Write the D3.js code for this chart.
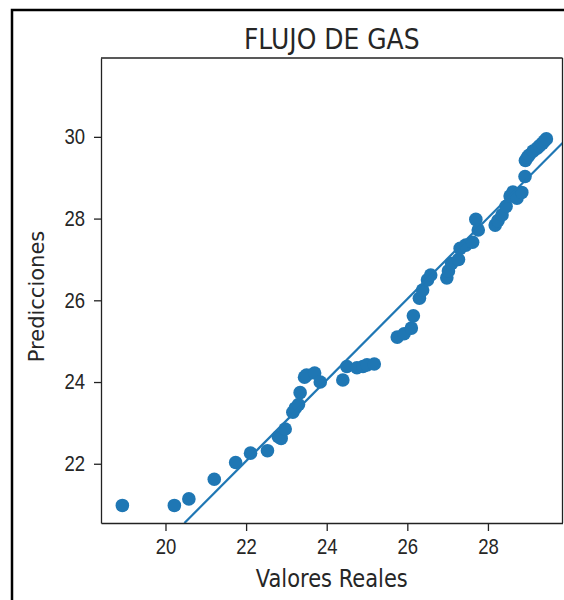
<!DOCTYPE html>
<head>
	<meta charset="utf-8">
	<style>
		html, body { margin: 0; background: #fff; overflow: hidden; }
		svg { display: block; font-family: "DejaVu Sans", sans-serif; }
		svg .domain, svg .tick line { stroke: #222; stroke-width: 1.3; }
		svg .tick text { fill: #262626; font-size: 18.5px; }
		svg .tall { transform-box: fill-box; transform-origin: center; transform: scaleY(1.15); }
	</style>
</head>
<body>
	<svg width="564" height="600"></svg>
	<script src="https://d3js.org/d3.v7.min.js"></script>
	<script>
		// Valores reales vs predicciones
		var realVals = [18.93, 20.22, 20.58, 21.21, 21.74, 22.11, 22.53, 22.80, 22.87, 22.97,
			23.16, 23.22, 23.30, 23.34, 23.45, 23.50, 23.70, 23.84, 24.40, 24.50,
			24.75, 24.90, 25.00, 25.18, 25.75, 25.92, 26.10, 26.15, 26.30, 26.38,
			26.50, 26.58, 26.98, 27.02, 27.10, 27.27, 27.31, 27.45, 27.62, 27.70,
			27.76, 28.18, 28.25, 28.35, 28.45, 28.55, 28.62, 28.72, 28.84, 28.92,
			28.93, 28.98, 29.02, 29.12, 29.22, 29.28, 29.35, 29.40, 29.45];
		var predVals = [20.98, 20.98, 21.14, 21.62, 22.03, 22.26, 22.32, 22.66, 22.62, 22.85,
			23.26, 23.36, 23.45, 23.74, 24.12, 24.17, 24.22, 24.00, 24.05, 24.38,
			24.35, 24.38, 24.42, 24.44, 25.10, 25.18, 25.32, 25.62, 26.05, 26.25,
			26.50, 26.62, 26.55, 26.72, 26.90, 27.00, 27.27, 27.35, 27.42, 27.98,
			27.72, 27.84, 27.95, 28.09, 28.30, 28.55, 28.65, 28.50, 28.64, 29.03,
			29.42, 29.50, 29.55, 29.65, 29.72, 29.78, 29.84, 29.90, 29.95];

		// recta de ajuste (extremos visibles)
		var lineX = [20.47, 29.85];
		var lineY = [20.55, 29.85];

		var xTicks = [20, 22, 24, 26, 28];
		var yTicks = [22, 24, 26, 28, 30];

		var blue = "#1f77b4";

		var svg = d3.select("svg"),
			margin = { top: 58, right: 1.5, bottom: 77, left: 101 },
			width = 564 - margin.left - margin.right,
			height = 600 - margin.top - margin.bottom;

		// marco negro de la captura (solo izquierda y arriba)
		svg.append("path")
			.attr("d", "M12,600V10H564")
			.attr("fill", "none")
			.attr("stroke", "#000")
			.attr("stroke-width", 2.5);

		var g = svg.append("g").attr("transform", "translate(" + margin.left + "," + margin.top + ")");

		var x = d3.scaleLinear().domain([18.40, 29.85]).range([0, width]);
		var y = d3.scaleLinear().domain([20.55, 31.93]).range([height, 0]);

		g.append("clipPath").attr("id", "clip")
			.append("rect").attr("width", width).attr("height", height);

		var plot = g.append("g").attr("clip-path", "url(#clip)");

		plot.selectAll("circle")
			.data(realVals)
			.enter().append("circle")
			.attr("cx", function (d) { return x(d); })
			.attr("cy", function (d, i) { return y(predVals[i]); })
			.attr("r", 6.8)
			.attr("fill", blue);

		plot.append("path")
			.datum(lineX)
			.attr("fill", "none")
			.attr("stroke", blue)
			.attr("stroke-width", 2.2)
			.attr("d", d3.line()
				.x(function (d) { return x(d); })
				.y(function (d, i) { return y(lineY[i]); }));

		// ejes
		g.append("g")
			.attr("transform", "translate(0," + height + ")")
			.call(d3.axisBottom(x).tickValues(xTicks).tickSize(8).tickPadding(9).tickSizeOuter(0))
			.selectAll("text").attr("class", "tall");

		g.append("g")
			.call(d3.axisLeft(y).tickValues(yTicks).tickSize(7).tickPadding(9).tickSizeOuter(0))
			.selectAll("text").attr("class", "tall");

		// spines superior y derecho
		g.append("line").attr("x1", 0).attr("x2", width).attr("y1", 0).attr("y2", 0)
			.attr("stroke", "#222").attr("stroke-width", 1.3);
		g.append("line").attr("x1", width).attr("x2", width).attr("y1", 0).attr("y2", height)
			.attr("stroke", "#222").attr("stroke-width", 1.3);

		// textos
		svg.append("text")
			.attr("class", "tall")
			.attr("x", margin.left + width / 2)
			.attr("y", 48)
			.attr("text-anchor", "middle")
			.attr("font-size", 25)
			.attr("fill", "#262626")
			.text("FLUJO DE GAS");

		svg.append("text")
			.attr("class", "tall")
			.attr("x", margin.left + width / 2)
			.attr("y", 586)
			.attr("text-anchor", "middle")
			.attr("font-size", 21)
			.attr("fill", "#262626")
			.text("Valores Reales");

		svg.append("text")
			.attr("transform", "translate(44," + (margin.top + height / 2 + 6) + ") rotate(-90)")
			.attr("text-anchor", "middle")
			.attr("font-size", 21)
			.attr("fill", "#262626")
			.text("Predicciones");
	</script>
</body>
